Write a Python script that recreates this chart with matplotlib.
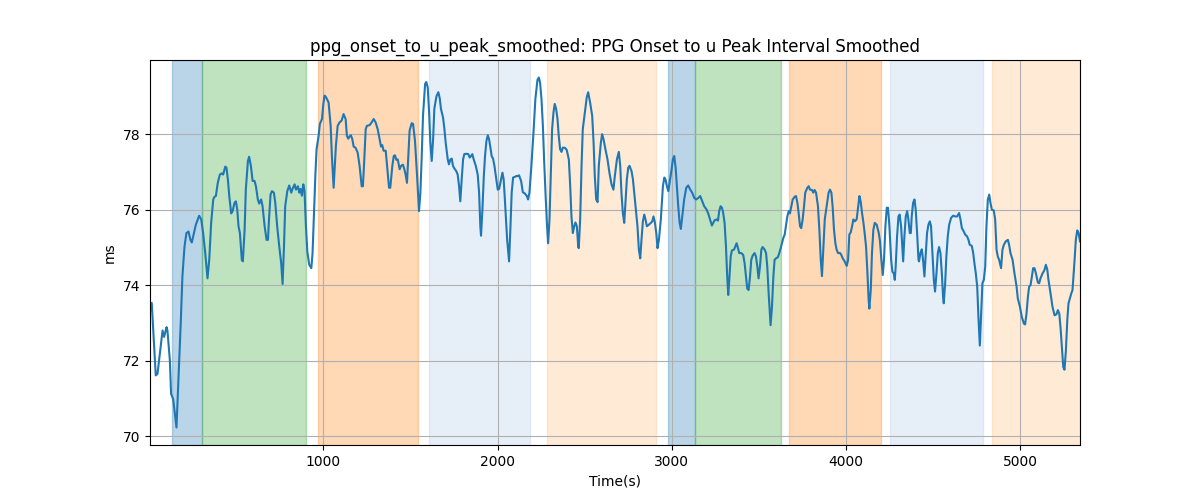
import matplotlib
matplotlib.use("Agg")
import matplotlib.pyplot as plt

time_s = [
    5, 15, 38, 48, 77, 86, 100, 105, 119, 126, 138, 146, 157, 169, 182, 191, 203, 214, 226, 237,
    245, 257, 268, 287, 299, 310, 322, 335, 345, 356, 368, 375, 383, 394, 406, 417, 425, 437, 444, 452,
    460, 471, 479, 490, 498, 506, 513, 521, 532, 538, 548, 555, 567, 574, 584, 594, 605, 613, 624, 632,
    643, 651, 663, 674, 682, 689, 697, 705, 716, 724, 735, 747, 758, 766, 774, 781, 793, 804, 816, 823,
    835, 843, 854, 862, 869, 877, 885, 892, 900, 908, 919, 931, 938, 946, 954, 961, 973, 980, 992, 1000,
    1007, 1015, 1030, 1042, 1049, 1059, 1072, 1082, 1093, 1105, 1116, 1128, 1135, 1143, 1151, 1158, 1166, 1174, 1185, 1197,
    1208, 1220, 1227, 1235, 1243, 1250, 1266, 1277, 1289, 1300, 1312, 1323, 1331, 1338, 1346, 1358, 1369, 1377, 1384, 1396,
    1404, 1411, 1419, 1427, 1438, 1446, 1457, 1465, 1472, 1480, 1488, 1495, 1507, 1515, 1526, 1538, 1549, 1557, 1564, 1572,
    1584, 1591, 1599, 1607, 1614, 1622, 1630, 1637, 1649, 1660, 1668, 1675, 1687, 1695, 1702, 1714, 1721, 1729, 1737, 1744,
    1752, 1763, 1771, 1779, 1786, 1794, 1802, 1809, 1821, 1832, 1840, 1848, 1855, 1863, 1875, 1886, 1894, 1901, 1905, 1913,
    1921, 1928, 1936, 1944, 1951, 1959, 1966, 1974, 1982, 1993, 2001, 2009, 2016, 2028, 2035, 2043, 2055, 2066, 2074, 2081,
    2089, 2100, 2108, 2116, 2123, 2135, 2145, 2156, 2168, 2175, 2183, 2194, 2206, 2217, 2229, 2237, 2244, 2252, 2260, 2267,
    2275, 2283, 2290, 2298, 2306, 2313, 2321, 2328, 2336, 2344, 2351, 2359, 2367, 2374, 2386, 2397, 2409, 2417, 2424, 2432,
    2440, 2447, 2455, 2463, 2466, 2474, 2482, 2489, 2501, 2512, 2520, 2531, 2543, 2551, 2558, 2566, 2574, 2581, 2593, 2600,
    2608, 2619, 2631, 2642, 2654, 2665, 2673, 2685, 2696, 2704, 2711, 2719, 2727, 2734, 2742, 2750, 2757, 2769, 2777, 2788,
    2796, 2803, 2811, 2819, 2826, 2834, 2842, 2849, 2857, 2868, 2880, 2888, 2895, 2903, 2911, 2918, 2926, 2937, 2949, 2957,
    2964, 2972, 2980, 2987, 2999, 3006, 3014, 3022, 3029, 3037, 3045, 3052, 3060, 3071, 3083, 3094, 3106, 3117, 3129, 3140,
    3152, 3163, 3175, 3186, 3200, 3211, 3223, 3230, 3238, 3246, 3257, 3265, 3272, 3280, 3288, 3295, 3303, 3311, 3318, 3324,
    3330, 3338, 3345, 3357, 3364, 3372, 3380, 3387, 3399, 3410, 3418, 3426, 3433, 3441, 3449, 3456, 3464, 3475, 3483, 3491,
    3498, 3506, 3514, 3521, 3533, 3541, 3548, 3556, 3564, 3567, 3575, 3583, 3590, 3598, 3609, 3617, 3625, 3632, 3640, 3648,
    3655, 3663, 3671, 3678, 3686, 3694, 3705, 3713, 3721, 3728, 3736, 3743, 3751, 3759, 3766, 3778, 3786, 3793, 3805, 3812,
    3820, 3828, 3839, 3847, 3855, 3862, 3870, 3878, 3889, 3900, 3908, 3916, 3923, 3931, 3939, 3946, 3954, 3966, 3973, 3981,
    3992, 4004, 4012, 4019, 4027, 4035, 4042, 4050, 4061, 4069, 4077, 4084, 4092, 4100, 4107, 4115, 4123, 4130, 4134, 4142,
    4149, 4157, 4165, 4176, 4188, 4195, 4203, 4211, 4218, 4226, 4234, 4241, 4249, 4259, 4266, 4274, 4280, 4285, 4293, 4301,
    4308, 4316, 4324, 4328, 4335, 4343, 4351, 4358, 4366, 4372, 4377, 4385, 4393, 4400, 4408, 4416, 4419, 4427, 4435, 4442,
    4450, 4458, 4465, 4473, 4481, 4488, 4496, 4504, 4511, 4519, 4527, 4534, 4542, 4550, 4557, 4561, 4569, 4576, 4584, 4592,
    4603, 4615, 4626, 4638, 4649, 4657, 4665, 4676, 4684, 4695, 4703, 4710, 4722, 4730, 4737, 4745, 4753, 4760, 4768, 4776,
    4783, 4791, 4799, 4806, 4814, 4822, 4829, 4837, 4848, 4856, 4864, 4871, 4879, 4890, 4898, 4906, 4917, 4929, 4936, 4944,
    4956, 4967, 4979, 4986, 4998, 5009, 5021, 5028, 5036, 5044, 5051, 5059, 5067, 5074, 5082, 5090, 5101, 5109, 5116, 5128,
    5139, 5147, 5155, 5162, 5174, 5185, 5197, 5208, 5216, 5224, 5231, 5239, 5247, 5254, 5262, 5270, 5277, 5285, 5293, 5300,
    5304, 5312, 5319, 5327, 5335, 5343,
]

interval_ms = [
    73.30, 73.53, 71.61, 71.65, 72.80, 72.63, 72.89, 72.80, 72.01, 71.12, 70.98, 70.67, 70.23, 71.56, 73.07, 74.23, 75.02, 75.38, 75.42, 75.20,
    75.13, 75.38, 75.60, 75.84, 75.74, 75.38, 74.85, 74.18, 74.67, 75.65, 76.27, 76.34, 76.36, 76.71, 76.93, 76.96, 76.93, 77.14, 77.11, 76.80,
    76.36, 75.90, 75.96, 76.18, 76.22, 76.00, 75.56, 75.38, 74.67, 74.63, 75.47, 76.53, 77.29, 77.40, 77.16, 76.76, 76.76, 76.62, 76.27, 76.16,
    76.27, 76.09, 75.56, 75.20, 75.20, 75.82, 76.40, 76.49, 76.45, 76.18, 75.56, 75.02, 74.58, 74.03, 75.02, 76.09, 76.49, 76.64, 76.45, 76.55,
    76.67, 76.53, 76.62, 76.45, 76.55, 76.37, 76.67, 76.49, 75.56, 74.89, 74.54, 74.45, 74.85, 75.91, 76.89, 77.60, 77.96, 78.27, 78.40, 78.80,
    79.02, 78.98, 78.84, 78.22, 77.42, 76.58, 77.69, 78.22, 78.31, 78.36, 78.53, 78.40, 77.96, 77.88, 77.94, 77.97, 77.87, 77.67, 77.64, 77.51,
    77.16, 76.62, 76.62, 77.33, 78.13, 78.22, 78.24, 78.31, 78.40, 78.31, 78.13, 77.87, 77.67, 77.71, 77.56, 77.56, 76.98, 76.58, 76.58, 77.16,
    77.42, 77.44, 77.32, 77.33, 77.07, 77.16, 77.19, 77.07, 76.93, 76.71, 77.42, 78.09, 78.29, 78.27, 77.82, 76.89, 75.96, 76.45, 77.33, 78.49,
    79.33, 79.38, 79.24, 78.58, 77.78, 77.29, 77.87, 78.67, 79.00, 79.11, 78.95, 78.67, 78.44, 78.13, 77.78, 77.33, 77.20, 77.33, 77.35, 77.16,
    77.09, 77.02, 76.93, 76.62, 76.22, 76.80, 77.33, 77.47, 77.48, 77.47, 77.38, 77.42, 77.47, 77.33, 77.16, 76.93, 76.45, 75.56, 75.31, 76.00,
    76.89, 77.42, 77.82, 77.97, 77.87, 77.64, 77.42, 77.35, 77.16, 76.80, 76.53, 76.55, 76.71, 76.98, 76.80, 76.18, 75.20, 74.63, 75.56, 76.45,
    76.85, 76.87, 76.89, 76.89, 76.91, 76.76, 76.46, 76.43, 76.36, 76.27, 76.45, 77.16, 78.04, 78.93, 79.44, 79.50, 79.36, 78.93, 78.22, 77.33,
    76.45, 75.65, 75.11, 75.74, 77.07, 78.13, 78.58, 78.80, 78.67, 78.40, 77.96, 77.60, 77.53, 77.64, 77.64, 77.58, 77.33, 76.62, 75.82, 75.38,
    75.56, 75.66, 75.56, 75.02, 74.98, 75.74, 77.16, 78.13, 78.58, 78.98, 79.11, 78.84, 78.49, 77.78, 76.89, 76.27, 76.20, 77.16, 77.78, 78.00,
    77.87, 77.60, 77.33, 76.98, 76.67, 76.53, 76.89, 77.33, 77.53, 77.16, 76.45, 75.91, 75.65, 76.18, 76.80, 77.11, 77.16, 77.02, 76.80, 76.27,
    75.91, 75.56, 74.94, 74.71, 75.20, 75.69, 75.87, 75.74, 75.56, 75.60, 75.65, 75.69, 75.82, 75.66, 75.38, 74.98, 75.20, 75.74, 76.62, 76.85,
    76.80, 76.62, 76.49, 76.71, 77.07, 77.33, 77.42, 77.11, 76.62, 76.09, 75.65, 75.49, 75.82, 76.27, 76.58, 76.64, 76.53, 76.45, 76.31, 76.27,
    76.31, 76.36, 76.22, 76.09, 76.00, 75.87, 75.69, 75.58, 75.65, 75.72, 75.74, 75.71, 75.96, 76.09, 76.05, 75.91, 75.65, 75.02, 74.23, 73.74,
    74.14, 74.76, 74.92, 74.94, 75.02, 75.11, 74.98, 74.85, 74.85, 74.80, 74.58, 74.23, 73.91, 73.87, 74.23, 74.67, 74.78, 74.85, 74.76, 74.49,
    74.18, 74.49, 74.94, 75.01, 74.94, 74.85, 74.49, 73.78, 73.16, 72.94, 73.43, 74.23, 74.67, 74.71, 74.74, 74.85, 74.98, 75.11, 75.25, 75.34,
    75.56, 75.82, 75.96, 75.90, 76.09, 76.27, 76.34, 76.36, 76.18, 75.91, 75.56, 75.51, 75.74, 76.09, 76.45, 76.58, 76.62, 76.53, 76.52, 76.45,
    76.52, 76.45, 76.09, 75.47, 74.67, 74.24, 75.02, 75.74, 76.09, 76.45, 76.53, 76.45, 76.09, 75.47, 75.11, 74.94, 74.85, 74.85, 74.80, 74.71,
    74.63, 74.51, 74.67, 75.34, 75.40, 75.56, 75.74, 75.69, 75.74, 76.05, 76.36, 76.22, 75.91, 75.65, 75.38, 75.02, 74.31, 73.60, 73.38, 73.87,
    74.85, 75.47, 75.65, 75.60, 75.38, 75.16, 74.67, 74.27, 74.67, 75.56, 76.05, 76.05, 75.56, 74.67, 74.36, 74.31, 74.14, 74.49, 75.29, 75.82,
    75.87, 75.56, 74.94, 74.63, 75.29, 75.82, 75.96, 75.74, 75.38, 75.38, 75.82, 76.18, 76.27, 76.00, 75.38, 74.67, 74.63, 74.85, 74.95, 74.67,
    74.23, 74.85, 75.38, 75.60, 75.69, 75.56, 74.85, 74.14, 73.83, 74.31, 74.85, 75.01, 74.85, 74.31, 73.69, 73.52, 74.05, 74.76, 75.29, 75.60,
    75.78, 75.84, 75.82, 75.82, 75.91, 75.74, 75.51, 75.42, 75.34, 75.29, 75.20, 75.07, 75.04, 74.85, 74.58, 74.31, 73.96, 73.16, 72.40, 73.25,
    74.05, 74.14, 74.49, 75.56, 76.27, 76.40, 76.18, 76.00, 75.98, 75.74, 74.94, 74.76, 74.67, 74.45, 74.94, 75.07, 75.16, 75.20, 75.07, 74.85,
    74.67, 74.31, 73.96, 73.65, 73.43, 73.16, 72.98, 72.96, 73.25, 73.69, 73.96, 74.00, 74.23, 74.45, 74.45, 74.31, 74.07, 74.05, 74.18, 74.31,
    74.40, 74.54, 74.42, 74.14, 73.78, 73.43, 73.20, 73.23, 73.34, 73.25, 72.89, 72.36, 71.83, 71.76, 72.27, 73.07, 73.52, 73.65, 73.78, 73.87,
    74.14, 74.67, 75.20, 75.45, 75.38, 75.16,
]

span_starts = [134, 306, 967, 1604, 2281, 2981, 3133, 3670, 4251, 4837]
span_ends = [306, 900, 1543, 2187, 2911, 3133, 3629, 4203, 4789, 5343]
span_colors = ["#1f77b4", "#2ca02c", "#ff7f0e", "#aec7e8", "#ffbb78",
               "#1f77b4", "#2ca02c", "#ff7f0e", "#aec7e8", "#ffbb78"]

fig, ax = plt.subplots(figsize=(12, 5), dpi=100)
for s, e, c in zip(span_starts, span_ends, span_colors):
    ax.axvspan(s, e, color=c, alpha=0.3)
ax.plot(time_s, interval_ms, color="#1f77b4", linewidth=1.5)
ax.set_xlim(time_s[0], time_s[-1])
ax.grid(True)
ax.set_title("ppg_onset_to_u_peak_smoothed: PPG Onset to u Peak Interval Smoothed")
ax.set_xlabel("Time(s)")
ax.set_ylabel("ms")
fig.savefig("out.png", dpi=100)
